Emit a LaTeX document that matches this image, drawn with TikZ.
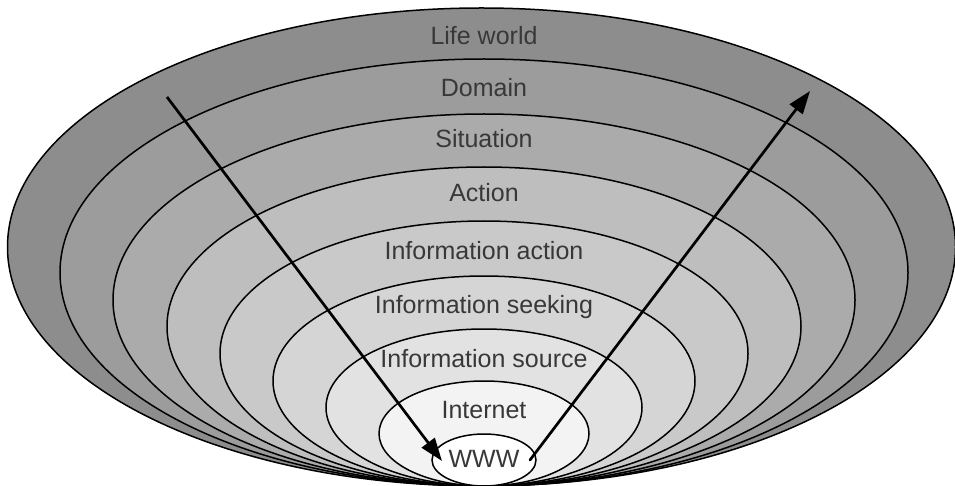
\documentclass[tikz,border=0pt]{standalone}
\usepackage{fontspec}
\setmainfont{Liberation Sans}
\usetikzlibrary{arrows.meta}
\definecolor{g9}{HTML}{8D8D8D}
\definecolor{g8}{HTML}{9C9C9C}
\definecolor{g7}{HTML}{ABABAB}
\definecolor{g6}{HTML}{BEBEBE}
\definecolor{g5}{HTML}{C9C9C9}
\definecolor{g4}{HTML}{D5D5D5}
\definecolor{g3}{HTML}{E2E2E2}
\definecolor{g2}{HTML}{F3F3F3}
\definecolor{g1}{HTML}{FFFFFF}
\definecolor{textgray}{HTML}{383838}
\begin{document}
\begin{tikzpicture}[x=1pt,y=-1pt,
  ring/.style={draw=black,line width=1.5pt},
  lbl/.style={anchor=base,text=textgray,font=\fontsize{25}{30}\selectfont,inner sep=0pt},
  flow/.style={line width=2.7pt,-{Triangle[length=23pt,width=16pt]}}]
\useasboundingbox (0,0) rectangle (955,486);
\foreach \cx/\rx/\ry/\col in {481.5/474/239/g9,484/424/213.5/g8,484/371/186/g7,484/317/159.5/g6,484/264/132.5/g5,484/211/105/g4,484/158/78.5/g3,484/105/52.5/g2,484/52/26/g1}{
  \filldraw[ring,fill=\col] (\cx,{486-\ry}) ellipse [x radius=\rx pt, y radius=\ry pt];
}
\node[lbl] (lw) at (484,45) {Life world};
\node[lbl] (dom) at (484,97) {Domain};
\node[lbl] (sit) at (484,148) {Situation};
\node[lbl] (act) at (484,202) {Action};
\node[lbl] (ia) at (484,260) {Information action};
\node[lbl] (is) at (484,313) {Information seeking};
\node[lbl] (isrc) at (484,367) {Information source};
\node[lbl] (inet) at (484,418) {Internet};
\node[lbl] (www) at (484,467) {WWW};
\coordinate (a1s) at (167,97);
\coordinate (a1e) at (442,461);
\coordinate (a2s) at (530,460);
\coordinate (a2e) at (810,91);
\draw[flow] (a1s) -- (a1e);
\draw[flow,line cap=round] (a2s) -- (a2e);
\end{tikzpicture}
\end{document}
